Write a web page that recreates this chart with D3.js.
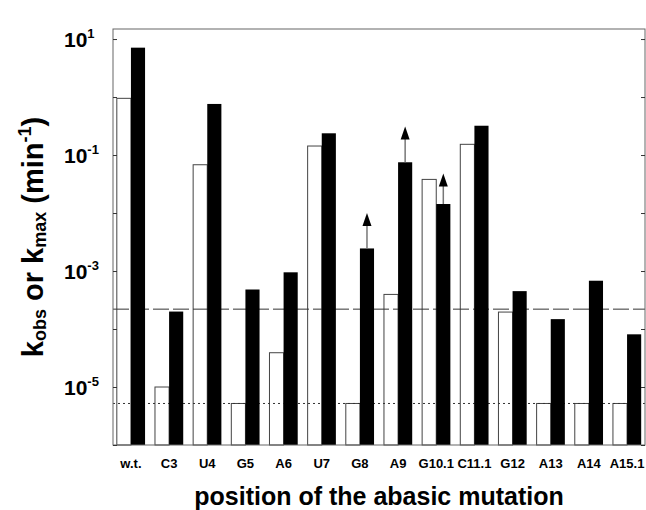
<!DOCTYPE html>
<meta charset="utf-8">
<style>
  body { margin: 0; background: #fff; }
  svg { font-family: "Liberation Sans", Arial, sans-serif; font-weight: bold; }
  .frame { fill: none; stroke: #666; stroke-width: 1; }
  .axis path { display: none; }
  .axis line { stroke: #333; }
  .x.axis text { font-size: 13px; font-weight: bold; fill: #000; }
  .open { fill: none; stroke: #444; stroke-width: 1; }
  .filled { fill: #000; }
  .ref { stroke: #333; stroke-width: 1; fill: none; }
  .arrow line { stroke: #777; stroke-width: 1.5; }
</style>
<body>
<script src="https://d3js.org/d3.v7.min.js"></script>
<script>
// positions of the abasic mutation
var positions = ["w.t.", "C3", "U4", "G5", "A6", "U7", "G8", "A9", "G10.1", "C11.1", "G12", "A13", "A14", "A15.1"];
// open bars (k_obs) and filled bars (k_max), min^-1
var kobs = [0.95, 1.0e-5, 0.068, 5.2e-6, 3.9e-5, 0.143, 5.2e-6, 3.95e-4, 0.038, 0.153, 1.96e-4, 5.2e-6, 5.2e-6, 5.2e-6];
var kmax = [7.1, 2.0e-4, 0.76, 4.8e-4, 9.5e-4, 0.237, 2.45e-3, 0.075, 0.0143, 0.32, 4.5e-4, 1.48e-4, 6.8e-4, 8.1e-5];
// lower limits: arrows pointing up from the filled bar
var arrowPos = ["G8", "A9", "G10.1"];
var arrowTip = [0.01, 0.31, 0.048];
// horizontal reference levels
var dashedLevel = 2.2e-4;
var dottedLevel = 5.2e-6;
var yTicks = [10, 1, 0.1, 1e-2, 1e-3, 1e-4, 1e-5, 1e-6];
var yLabelExp = [1, -1, -3, -5];

var W = 646, H = 510;
var pLeft = 113, pRight = 645, pTop = 29, pBottom = 445;

var svg = d3.select("body").append("svg")
    .attr("width", W)
    .attr("height", H);

var x = d3.scaleBand()
    .domain(positions)
    .range([pLeft, pRight])
    .paddingInner(0.26)
    .paddingOuter(0.1);

var sub = d3.scaleBand()
    .domain(["kobs", "kmax"])
    .range([0, x.bandwidth()]);

var y = d3.scaleLog()
    .domain([1e-6, 14.9])
    .range([pBottom, pTop]);

var data = positions.map(function(p, i) {
  return { pos: p, kobs: kobs[i], kmax: kmax[i] };
});

// open bars first, they are see-through
svg.append("g").selectAll("rect")
    .data(data)
    .enter().append("rect")
    .attr("class", "open")
    .attr("x", function(d) { return x(d.pos) + sub("kobs"); })
    .attr("y", function(d) { return y(d.kobs); })
    .attr("width", sub.bandwidth())
    .attr("height", function(d) { return y(1e-6) - y(d.kobs); });

// reference lines
svg.append("line")
    .attr("class", "ref")
    .attr("x1", pLeft).attr("x2", pRight)
    .attr("y1", y(dashedLevel)).attr("y2", y(dashedLevel))
    .style("stroke-dasharray", "16,4");

svg.append("line")
    .attr("class", "ref")
    .attr("x1", pLeft).attr("x2", pRight)
    .attr("y1", y(dottedLevel)).attr("y2", y(dottedLevel))
    .style("stroke-dasharray", "2,3");

svg.append("g").selectAll("rect")
    .data(data)
    .enter().append("rect")
    .attr("class", "filled")
    .attr("x", function(d) { return x(d.pos) + sub("kmax"); })
    .attr("y", function(d) { return y(d.kmax); })
    .attr("width", sub.bandwidth())
    .attr("height", function(d) { return y(1e-6) - y(d.kmax); });

// arrows
var arrows = svg.append("g").selectAll("g")
    .data(arrowPos.map(function(p, i) { return { pos: p, tip: arrowTip[i], from: kmax[positions.indexOf(p)] }; }))
    .enter().append("g")
    .attr("class", "arrow")
    .attr("transform", function(d) { return "translate(" + (x(d.pos) + sub("kmax") + sub.bandwidth() / 2) + ",0)"; });

arrows.append("line")
    .attr("x1", 0).attr("x2", 0)
    .attr("y1", function(d) { return y(d.from); })
    .attr("y2", function(d) { return y(d.tip) + 10; });

arrows.append("path")
    .attr("d", function(d) {
      var t = y(d.tip);
      return "M0," + t + "L4.5," + (t + 13) + "L-4.5," + (t + 13) + "Z";
    })
    .attr("fill", "#000");

// frame + ticks
svg.append("rect")
    .attr("class", "frame")
    .attr("x", pLeft).attr("y", pTop)
    .attr("width", pRight - pLeft).attr("height", pBottom - pTop);

svg.append("g")
    .attr("class", "y axis")
    .attr("transform", "translate(" + pLeft + ",0)")
    .call(d3.axisLeft(y).tickValues(yTicks).tickSize(-4).tickFormat(""));

svg.append("g")
    .attr("class", "y axis")
    .attr("transform", "translate(" + pRight + ",0)")
    .call(d3.axisRight(y).tickValues(yTicks).tickSize(-4).tickFormat(""));

var yl = svg.append("g").selectAll("text")
    .data(yLabelExp)
    .enter().append("text")
    .attr("x", 64)
    .attr("y", function(e) { return y(Math.pow(10, e)) + 8; })
    .style("font-size", "21px");
yl.append("tspan").text("10");
yl.append("tspan")
    .attr("dy", -9)
    .style("font-size", "13px")
    .text(function(e) { return e; });

// x labels
svg.append("g")
    .attr("class", "x axis")
    .attr("transform", "translate(0," + pBottom + ")")
    .call(d3.axisBottom(x).tickSize(0).tickPadding(14));

// titles
svg.append("text")
    .attr("x", (pLeft + pRight) / 2)
    .attr("y", 505)
    .attr("text-anchor", "middle")
    .style("font-size", "25px")
    .text("position of the abasic mutation");

var yt = svg.append("text")
    .attr("transform", "translate(43," + ((pTop + pBottom) / 2) + ") rotate(-90)")
    .attr("text-anchor", "middle")
    .style("font-size", "29px");
yt.append("tspan").text("k");
yt.append("tspan").attr("dy", 3).style("font-size", "18px").text("obs");
yt.append("tspan").attr("dy", -3).text(" or k");
yt.append("tspan").attr("dy", 3).style("font-size", "18px").text("max");
yt.append("tspan").attr("dy", -3).text(" (min");
yt.append("tspan").attr("dy", -12).style("font-size", "18px").text("-1");
yt.append("tspan").attr("dy", 12).text(")");
</script>
</body>
